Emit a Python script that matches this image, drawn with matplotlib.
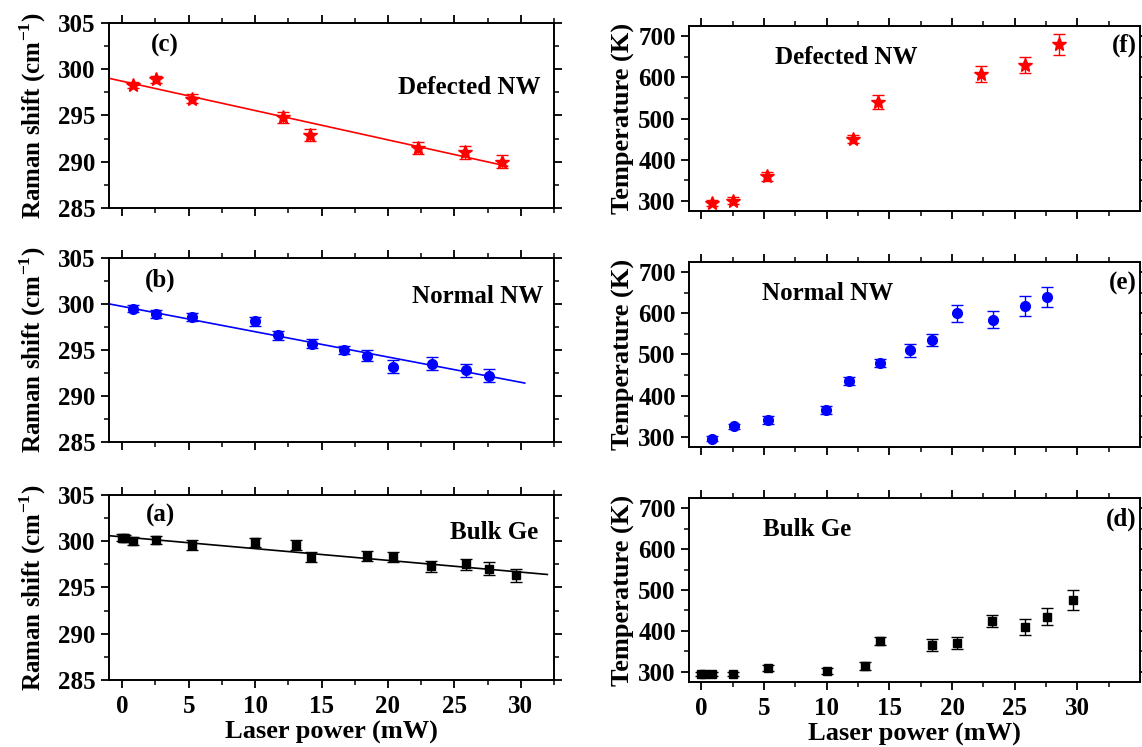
import numpy as np
import matplotlib
matplotlib.use('Agg')
import matplotlib.pyplot as plt

plt.rcParams['font.family'] = ['Liberation Serif', 'DejaVu Serif']
plt.rcParams['font.weight'] = 'bold'
plt.rcParams['mathtext.fontset'] = 'custom'
plt.rcParams['mathtext.bf'] = 'Liberation Serif:bold'
plt.rcParams['mathtext.rm'] = 'Liberation Serif:bold'

# Bulk Ge
bulk_p = [0.0, 0.2, 0.84, 2.55, 5.28, 9.98, 13.06, 14.24, 18.44, 20.37, 23.22, 25.84, 27.62, 29.67]
bulk_shift = [300.4, 300.3, 300.0, 300.1, 299.6, 299.9, 299.6, 298.3, 298.4, 298.3, 297.3, 297.5, 297.0, 296.3]
bulk_shift_err = [0.4, 0.4, 0.45, 0.45, 0.5, 0.5, 0.5, 0.55, 0.55, 0.5, 0.6, 0.6, 0.7, 0.75]
bulk_temp = [295, 295, 295, 295, 310, 302, 315, 375, 365, 370, 425, 410, 435, 475]
bulk_temp_err = [5, 5, 5, 5, 7, 7, 10, 10, 15, 15, 15, 20, 20, 25]
bulk_fit = (300.47, -0.127, -1.0, 32.0)   # intercept, slope, x start, x end

# Normal NW
norm_p = [0.83, 2.56, 5.27, 9.96, 11.75, 14.25, 16.66, 18.44, 20.37, 23.3, 25.85, 27.62]
norm_shift = [299.5, 298.9, 298.6, 298.1, 296.6, 295.7, 295.0, 294.4, 293.2, 293.5, 292.8, 292.2]
norm_shift_err = [0.4, 0.4, 0.47, 0.45, 0.5, 0.5, 0.47, 0.55, 0.67, 0.7, 0.7, 0.7]
norm_temp = [295, 325, 340, 365, 435, 480, 510, 535, 600, 585, 618, 640]
norm_temp_err = [6, 6, 10, 10, 10, 10, 15, 15, 20, 20, 25, 25]
norm_fit = (299.74, -0.275, -1.0, 30.3)

# Defected NW
def_p = [0.83, 2.51, 5.23, 12.12, 14.1, 22.3, 25.82, 28.57]
def_shift = [298.3, 298.9, 296.8, 294.8, 292.9, 291.5, 291.0, 290.0]
def_shift_err = [0.3, 0.4, 0.5, 0.6, 0.65, 0.65, 0.67, 0.7]
def_temp = [295, 300, 360, 450, 540, 608, 630, 680]
def_temp_err = [8, 8, 11, 10, 16, 20, 19, 25]
def_fit = (298.7, -0.317, -1.0, 29.0)

fig = plt.figure(figsize=(11.42, 7.47), dpi=100)


def style_axes(ax, xlim, ylim, yticks, yminor, show_x):
    ax.set_xlim(*xlim)
    ax.set_ylim(*ylim)
    ax.set_xticks(np.arange(0, 31, 5))
    ax.set_xticks(np.arange(0, 33, 2.5), minor=True)
    ax.set_yticks(yticks)
    ax.set_yticks(yminor, minor=True)
    ax.tick_params(which='major', direction='out', length=6, width=1.3, labelsize=18)
    ax.tick_params(which='minor', direction='out', length=3.5, width=1.1)
    ax.tick_params(which='both', top=True, right=True)
    ax.tick_params(axis='x', which='major', pad=5)
    ax.tick_params(axis='x', which='both', labelbottom=show_x)
    for sp in ax.spines.values():
        sp.set_linewidth(1.4)
    for lab in ax.get_xticklabels() + ax.get_yticklabels():
        lab.set_fontweight('bold')


def raman_panel(rect, p, s, e, fit, color, marker, msize, letter, lpos, name, npos, show_x):
    ax = fig.add_axes(rect)
    ax.errorbar(p, s, yerr=e, fmt=marker, color=color, ms=msize, ecolor=color,
                elinewidth=1, capsize=4, capthick=1, zorder=3)
    xf = np.array([fit[2], fit[3]])
    ax.plot(xf, fit[0] + fit[1] * xf, color=color, lw=1.2, zorder=2)
    style_axes(ax, (-1, 32), (285, 305), np.arange(285, 306, 5), np.arange(285, 306, 2.5), show_x)
    ax.set_ylabel(r'Raman shift (cm$^{\mathbf{-1}}$)', fontsize=18, fontweight='bold', labelpad=7)
    ax.text(lpos[0], lpos[1], letter, transform=ax.transAxes, fontsize=18,
            fontweight='bold', ha='center', va='center')
    ax.text(npos[0], npos[1], name, transform=ax.transAxes, fontsize=18,
            fontweight='bold', ha='right', va='center')
    if show_x:
        ax.set_xlabel('Laser power (mW)', fontsize=19, fontweight='bold', labelpad=2)
    return ax


def temp_panel(rect, p, t, e, color, marker, msize, letter, lpos, name, npos, show_x):
    ax = fig.add_axes(rect)
    ax.errorbar(p, t, yerr=e, fmt=marker, color=color, ms=msize, ecolor=color,
                elinewidth=1, capsize=4, capthick=1, zorder=3)
    style_axes(ax, (-1, 35), (275, 725), np.arange(300, 701, 100), np.arange(300, 701, 50), show_x)
    ax.set_ylabel('Temperature (K)', fontsize=19, fontweight='bold', labelpad=2)
    ax.text(lpos[0], lpos[1], letter, transform=ax.transAxes, fontsize=18,
            fontweight='bold', ha='right', va='center')
    ax.text(npos[0], npos[1], name, transform=ax.transAxes, fontsize=18,
            fontweight='bold', ha='left', va='center')
    if show_x:
        ax.set_xlabel('Laser power (mW)', fontsize=19, fontweight='bold', labelpad=2)
    return ax


raman_panel([0.0954, 0.7216, 0.3897, 0.2477], def_p, def_shift, def_shift_err, def_fit,
            'red', '*', 10, '(c)', (0.126, 0.88), 'Defected NW', (0.969, 0.65), False)
raman_panel([0.0954, 0.4083, 0.3897, 0.2463], norm_p, norm_shift, norm_shift_err, norm_fit,
            'blue', 'o', 7, '(b)', (0.115, 0.88), 'Normal NW', (0.975, 0.79), False)
raman_panel([0.0954, 0.0897, 0.3897, 0.2477], bulk_p, bulk_shift, bulk_shift_err, bulk_fit,
            'black', 's', 6, '(a)', (0.115, 0.89), 'Bulk Ge', (0.965, 0.795), True)

temp_panel([0.6033, 0.7175, 0.3949, 0.2477], def_p, def_temp, def_temp_err,
           'red', '*', 10, '(f)', (0.993, 0.897), 'Defected NW', (0.19, 0.83), False)
temp_panel([0.6033, 0.4016, 0.3949, 0.2477], norm_p, norm_temp, norm_temp_err,
           'blue', 'o', 7, '(e)', (0.993, 0.886), 'Normal NW', (0.162, 0.83), False)
temp_panel([0.6033, 0.0870, 0.3949, 0.2463], bulk_p, bulk_temp, bulk_temp_err,
           'black', 's', 6, '(d)', (0.993, 0.886), 'Bulk Ge', (0.165, 0.83), True)

fig.savefig('out.png', dpi=100)
plt.close(fig)
